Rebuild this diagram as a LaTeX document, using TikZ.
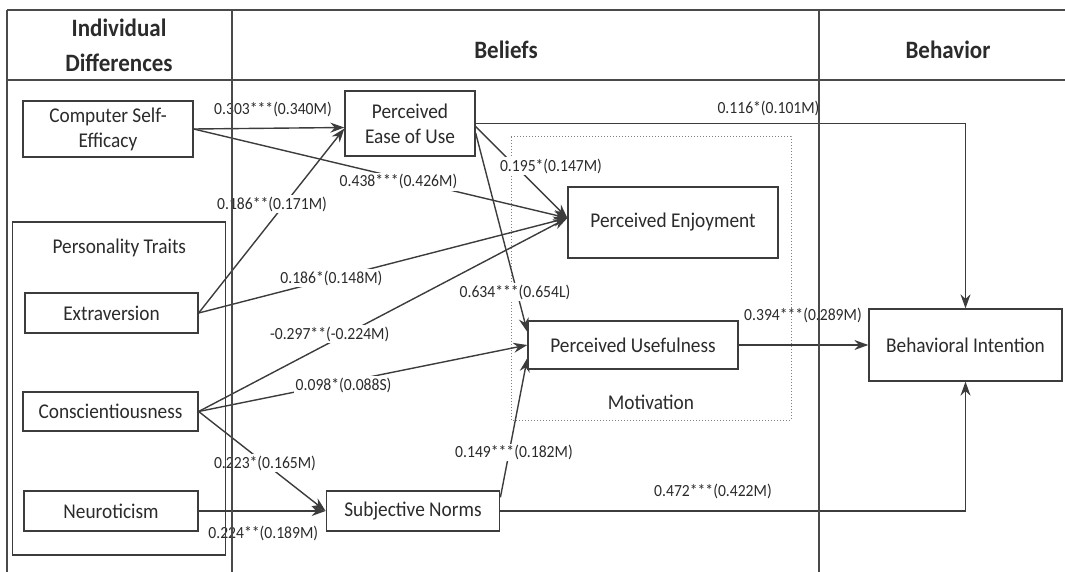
\documentclass[tikz,border=0pt]{standalone}
\usepackage{fontspec}
\setmainfont{Carlito}[FakeStretch=0.92]
\usetikzlibrary{arrows.meta,calc}
\definecolor{ink}{HTML}{2B2B2B}
\definecolor{edge}{HTML}{3C3C3C}
\definecolor{rulec}{HTML}{4A4A4A}
\begin{document}
\begin{tikzpicture}[x=1pt,y=-1pt,
  box/.style={draw=edge,line width=1.3pt,fill=white,inner sep=2pt,align=center,
    text=ink,font=\fontsize{21}{25}\selectfont},
  plain/.style={text=ink,font=\fontsize{21}{25}\selectfont,inner sep=1pt},
  lab/.style={text=ink,font=\fontsize{17}{20}\selectfont,inner sep=1.5pt},
  labw/.style={lab,fill=white},
  hdr/.style={text=ink,font=\bfseries\fontsize{25}{30}\selectfont,anchor=base,inner sep=0pt},
  conn/.style={draw=edge,line width=1.4pt,-{Stealth[length=14pt,width=10pt]}},
  rule/.style={draw=rulec,line width=1.4pt}]
\useasboundingbox (0,0) rectangle (1065,572);

% column headings
\node[hdr] (hindiv) at (119,36.7) {Individual};
\node[hdr] (hdiff) at (119,71.7) {Differences};
\node[hdr] (hbel) at (506,59) {Beliefs};
\node[hdr] (hbeh) at (948,59) {Behavior};

% motivation group
\draw[draw=gray,line width=1pt,dotted] (511,137) rectangle (791,420);
\node[plain] (mot) at (651,402) {Motivation};

% constructs
\node[box,minimum width=170pt,minimum height=56pt] (cse) at (108,129) {Computer Self-\\Efficacy};
\node[box,minimum width=130pt,minimum height=65pt] (peou) at (410,123.5) {Perceived\\Ease of Use};
\node[box,minimum width=173pt,minimum height=40pt] (extr) at (111.5,313) {Extraversion};
\node[box,minimum width=175pt,minimum height=39pt] (consc) at (110.5,411.5) {Conscientiousness};
\node[box,minimum width=174pt,minimum height=40pt] (neur) at (111,511) {Neuroticism};
\node[box,minimum width=173.5pt,minimum height=40pt] (sn) at (413,511) {Subjective Norms};
\node[box,minimum width=210pt,minimum height=71pt] (pe) at (673,222.5) {Perceived Enjoyment};
\node[box,minimum width=210pt,minimum height=48pt] (pu) at (633,345) {Perceived Usefulness};
\node[box,minimum width=193pt,minimum height=72pt] (bi) at (965.5,345) {Behavioral Intention};

% paths
\draw[conn] (cse.east) -- ([yshift=-4pt]peou.west);
\draw[conn] (cse.east) -- ([yshift=4.5pt]pe.west);
\draw[conn] (extr.east) -- ([yshift=-5pt]peou.west);
\draw[conn] (extr.east) -- ([yshift=4.5pt]pe.west);
\draw[conn] (consc.east) -- ([yshift=4.5pt]pe.west);
\draw[conn] (consc.east) -- (pu.west);
\draw[conn] (consc.east) -- (sn.west);
\draw[conn] (neur.east) -- (sn.west);
\draw[conn] ([yshift=-3pt]peou.east) -- ([yshift=4.5pt]pe.west);
\draw[conn] ([yshift=-9.5pt]peou.east) -- ([yshift=13pt]pu.west);
\draw[conn] ([yshift=-7pt]sn.north east) -- ([yshift=-13pt]pu.west);
\draw[conn] (peou.east) -| (bi.north);
\draw[conn] (sn.east) -| (bi.south);
\draw[conn] (pu.east) -- (bi.west);

% path coefficients
\node[lab] (l1) at (273,109.3) {0.303***(0.340M)};
\node[labw] (l2) at (398.5,181.7) {0.438***(0.426M)};
\node[labw] (l3) at (272,204) {0.186**(0.171M)};
\node[labw] (l4) at (331.4,278.3) {0.186*(0.148M)};
\node[labw] (l5) at (329.7,334) {-0.297**(-0.224M)};
\node[labw] (l6) at (343.6,385) {0.098*(0.088S)};
\node[labw] (l7) at (265,463.3) {0.223*(0.165M)};
\node[lab] (l8) at (263.3,533.3) {0.224**(0.189M)};
\node[labw] (l9) at (551,166) {0.195*(0.147M)};
\node[labw] (l10) at (515,292) {0.634***(0.654L)};
\node[labw] (l11) at (514,452.5) {0.149***(0.182M)};
\node[lab] (l12) at (768.5,108.3) {0.116*(0.101M)};
\node[lab] (l13) at (803,315) {0.394***(0.289M)};
\node[lab] (l14) at (713,491) {0.472***(0.422M)};

% personality traits group
\draw[draw=edge,line width=1.3pt] (12.7,222) rectangle (225.5,555);
\node[plain] (pers) at (119.3,248.3) {Personality Traits};

% table rules
\draw[rule] (7,10) -- (1065,10);
\draw[rule] (7,80) -- (1065,80);
\draw[rule] (7,10) -- (7,572);
\draw[rule] (232,10) -- (232,572);
\draw[rule] (819,10) -- (819,572);
\end{tikzpicture}
\end{document}
